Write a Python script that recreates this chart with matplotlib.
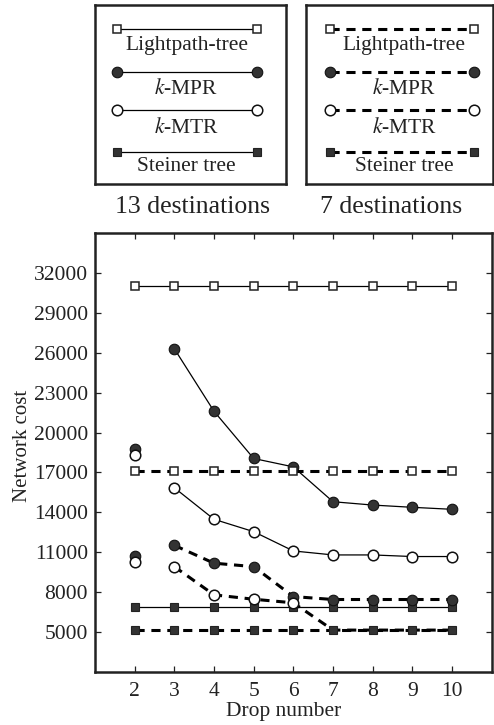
import matplotlib
matplotlib.use("Agg")
import matplotlib.pyplot as plt
from matplotlib.lines import Line2D
import numpy as np

plt.rcParams["font.family"] = ["Liberation Serif", "DejaVu Serif"]
plt.rcParams["mathtext.fontset"] = "stix"

drops = [2, 3, 4, 5, 6, 7, 8, 9, 10]
series_names = ["Lightpath-tree", "$k$-MPR", "$k$-MTR", "Steiner tree"]

# network cost per drop number, 13 destinations (solid) and 7 destinations (dashed)
cost_13 = {
    "Lightpath-tree": [31000, 31000, 31000, 31000, 31000, 31000, 31000, 31000, 31000],
    "$k$-MPR": [18800, 26300, 21600, 18050, 17420, 14800, 14550, 14380, 14230],
    "$k$-MTR": [18300, 15850, 13480, 12550, 11100, 10800, 10800, 10680, 10680],
    "Steiner tree": [6900, 6900, 6900, 6900, 6900, 6900, 6900, 6900, 6900],
}
cost_7 = {
    "Lightpath-tree": [17100, 17100, 17100, 17100, 17100, 17100, 17100, 17100, 17100],
    "$k$-MPR": [10750, 11520, 10180, 9920, 7670, 7450, 7450, 7450, 7450],
    "$k$-MTR": [10250, 9920, 7800, 7470, 7200, 5150, 5150, 5150, 5150],
    "Steiner tree": [5150, 5150, 5150, 5150, 5150, 5150, 5150, 5150, 5150],
}
# k-MPR / k-MTR at drop 2 are standalone points, not joined to the curve
detached_first = {"Lightpath-tree": False, "$k$-MPR": True, "$k$-MTR": True, "Steiner tree": False}

yticks = [5000, 8000, 11000, 14000, 17000, 20000, 23000, 26000, 29000, 32000]

DARK = "#333333"
INK = "#222222"
marker_style = {
    "Lightpath-tree": dict(marker="s", ms=5.8, mfc="white", mec=INK, mew=1.1),
    "$k$-MPR": dict(marker="o", ms=7.6, mfc=DARK, mec="#111111", mew=0.8),
    "$k$-MTR": dict(marker="o", ms=7.6, mfc="white", mec="#111111", mew=1.1),
    "Steiner tree": dict(marker="s", ms=5.8, mfc=DARK, mec=INK, mew=0.8),
}
solid = dict(color="black", lw=0.9, ls="-")
dashed = dict(color="black", lw=2.2, ls=(0, (3, 2.2)))

fig = plt.figure(figsize=(4.94, 7.25), dpi=100)
ax = fig.add_axes([0.1923, 0.0731, 0.8030, 0.6055])

for costs, style in ((cost_13, solid), (cost_7, dashed)):
    steiner = costs["Steiner tree"]
    for name in series_names:
        vals = costs[name]
        start = 1 if detached_first[name] else 0
        # where a curve merges into the Steiner tree only the square marker is shown
        shown = [i for i in range(start, len(vals))
                 if name == "Steiner tree" or vals[i] != steiner[i]]
        ax.plot(drops[start:], vals[start:], **style, **marker_style[name],
                markevery=[i - start for i in shown], zorder=3)
        if detached_first[name]:
            ax.plot(drops[:1], vals[:1], ls="none", **marker_style[name], zorder=3)

ax.set_xlim(1, 11)
ax.set_ylim(2000, 35000)
ax.set_xticks(drops)
ax.set_yticks(yticks)
ax.set_yticklabels([str(v) for v in yticks])
ax.tick_params(direction="in", length=4, width=0.9, top=True, right=True,
               labelsize=15.5, pad=5, colors=INK)
ax.tick_params(axis="x", pad=7)
for sp in ax.spines.values():
    sp.set_linewidth(1.8)
    sp.set_color(INK)
ax.set_xlabel("Drop number", fontsize=15.5, color=INK)
ax.set_ylabel("Network cost", fontsize=15, color=INK)
ax.xaxis.set_label_coords(0.476, -0.068)
ax.yaxis.set_label_coords(-0.158, 0.515)

# legend boxes above the plot
row_line_y = [0.864, 0.627, 0.413, 0.180]
row_text_y = [0.776, 0.529, 0.315, 0.097]
boxes = [
    ([0.1923, 0.746, 0.386, 0.247], solid, (0.114, 0.848), 0.48, "13 destinations", 0.39),
    ([0.619, 0.746, 0.378, 0.247], dashed, (0.128, 0.899), 0.527, "7 destinations", 0.791),
]
for rect, style, (x0, x1), text_x, title, title_x in boxes:
    lax = fig.add_axes(rect)
    lax.set_xlim(0, 1)
    lax.set_ylim(0, 1)
    lax.set_xticks([])
    lax.set_yticks([])
    for sp in lax.spines.values():
        sp.set_linewidth(1.8)
        sp.set_color(INK)
    for name, ly, ty in zip(series_names, row_line_y, row_text_y):
        lax.add_line(Line2D([x0, x1], [ly, ly], **style, **marker_style[name]))
        lax.text(text_x, ty, name, ha="center", va="center", fontsize=15.5, color=INK)
    fig.text(title_x, 0.715, title, ha="center", va="center", fontsize=18.5, color=INK)

fig.savefig("out.png", dpi=100)
